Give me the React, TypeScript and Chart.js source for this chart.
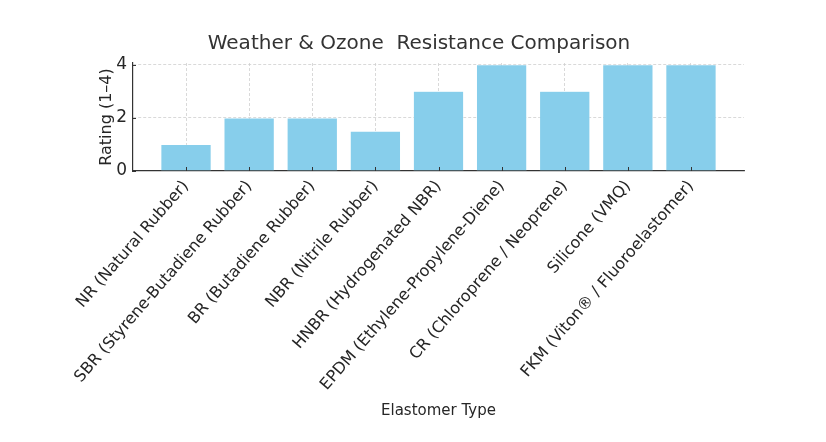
import { useEffect, useRef } from "react";
import { Chart, registerables } from "chart.js";

Chart.register(...registerables);

const elastomers = [
  "NR (Natural Rubber)",
  "SBR (Styrene-Butadiene Rubber)",
  "BR (Butadiene Rubber)",
  "NBR (Nitrile Rubber)",
  "HNBR (Hydrogenated NBR)",
  "EPDM (Ethylene-Propylene-Diene)",
  "CR (Chloroprene / Neoprene)",
  "Silicone (VMQ)",
  "FKM (Viton® / Fluoroelastomer)",
];

const ratings = [1, 2, 2, 1.5, 3, 4, 3, 4, 4];

const yTicks = [0, 2, 4];

const FONT = "'DejaVu Sans', sans-serif";
const TEXT = "#262626";

// little inward tick marks, like the matplotlib axes
const innerTicks = {
  id: "innerTicks",
  afterDraw(chart: Chart) {
    const { ctx, chartArea } = chart;
    const x = chart.scales.x;
    const y = chart.scales.y;
    ctx.save();
    ctx.strokeStyle = "#333";
    ctx.lineWidth = 1;
    ctx.beginPath();
    x.ticks.forEach((_, i) => {
      const px = Math.round(x.getPixelForTick(i)) + 0.5;
      ctx.moveTo(px, chartArea.bottom);
      ctx.lineTo(px, chartArea.bottom - 4);
    });
    y.ticks.forEach((_, i) => {
      const py = Math.round(y.getPixelForTick(i)) + 0.5;
      ctx.moveTo(chartArea.left, py);
      ctx.lineTo(chartArea.left + 3, py);
    });
    ctx.stroke();
    ctx.restore();
  },
};

export default function App() {
  const canvasRef = useRef<HTMLCanvasElement | null>(null);
  const chartRef = useRef<Chart | null>(null);

  useEffect(() => {
    document.body.style.margin = "0";
    if (!canvasRef.current) return;

    if (chartRef.current) {
      chartRef.current.destroy();
      chartRef.current = null;
    }

    chartRef.current = new Chart(canvasRef.current, {
      type: "bar",
      data: {
        datasets: [
          {
            label: "Rating",
            data: ratings.map((v, i) => ({ x: i, y: v })),
            backgroundColor: "#87CEEB",
            borderColor: "rgba(255,255,255,0.5)",
            borderWidth: 0.6,
            barPercentage: 0.8,
            categoryPercentage: 1,
          },
        ],
      },
      options: {
        animation: false,
        responsive: false,
        maintainAspectRatio: false,
        layout: { padding: { left: 94, right: 82, top: 0, bottom: 18 } },
        plugins: {
          legend: { display: false },
          tooltip: { enabled: false },
          title: {
            display: true,
            text: "Weather & Ozone  Resistance Comparison",
            color: "#333",
            font: { family: FONT, size: 20, weight: "normal" },
            padding: { top: 32, bottom: 7 },
          },
        },
        scales: {
          x: {
            type: "linear",
            min: -0.84,
            max: 8.84,
            offset: false,
            z: 1,
            afterBuildTicks: (axis) => {
              axis.ticks = elastomers.map((_, i) => ({ value: i }));
            },
            afterFit: (axis) => {
              axis.height = 442 - 171 - 18;
            },
            ticks: {
              autoSkip: false,
              minRotation: 49,
              maxRotation: 49,
              padding: 6,
              color: TEXT,
              font: { family: FONT, size: 16 },
              callback: (v) => elastomers[Number(v)] ?? "",
            },
            grid: {
              offset: false,
              color: "#cfcfcf",
              lineWidth: 0.8,
              drawTicks: false,
            },
            border: { display: true, color: "#333", width: 1.2, dash: [3, 2] },
            title: {
              display: true,
              text: "Elastomer Type",
              color: TEXT,
              font: { family: FONT, size: 15 },
              padding: { top: 4, bottom: 4 },
            },
          },
          y: {
            min: 0,
            max: 4.06,
            z: 1,
            afterBuildTicks: (axis) => {
              axis.ticks = yTicks.map((v) => ({ value: v }));
            },
            afterFit: (axis) => {
              axis.width = 133 - 94;
            },
            ticks: {
              padding: 6,
              color: TEXT,
              font: { family: FONT, size: 17 },
            },
            grid: {
              color: (c) => (c.tick && c.tick.value === 0 ? "rgba(0,0,0,0)" : "#cfcfcf"),
              lineWidth: 0.8,
              drawTicks: false,
            },
            border: { display: true, color: "#333", width: 1.2, dash: [3, 2] },
            title: {
              display: true,
              text: "Rating (1–4)",
              color: TEXT,
              font: { family: FONT, size: 16 },
              padding: { top: 3, bottom: 4 },
            },
          },
        },
      },
      plugins: [innerTicks],
    });

    return () => {
      if (chartRef.current) {
        chartRef.current.destroy();
        chartRef.current = null;
      }
    };
  }, []);

  return (
    <div style={{ width: 826, height: 442 }}>
      <canvas ref={canvasRef} width={826} height={442} style={{ width: 826, height: 442 }} />
    </div>
  );
}
